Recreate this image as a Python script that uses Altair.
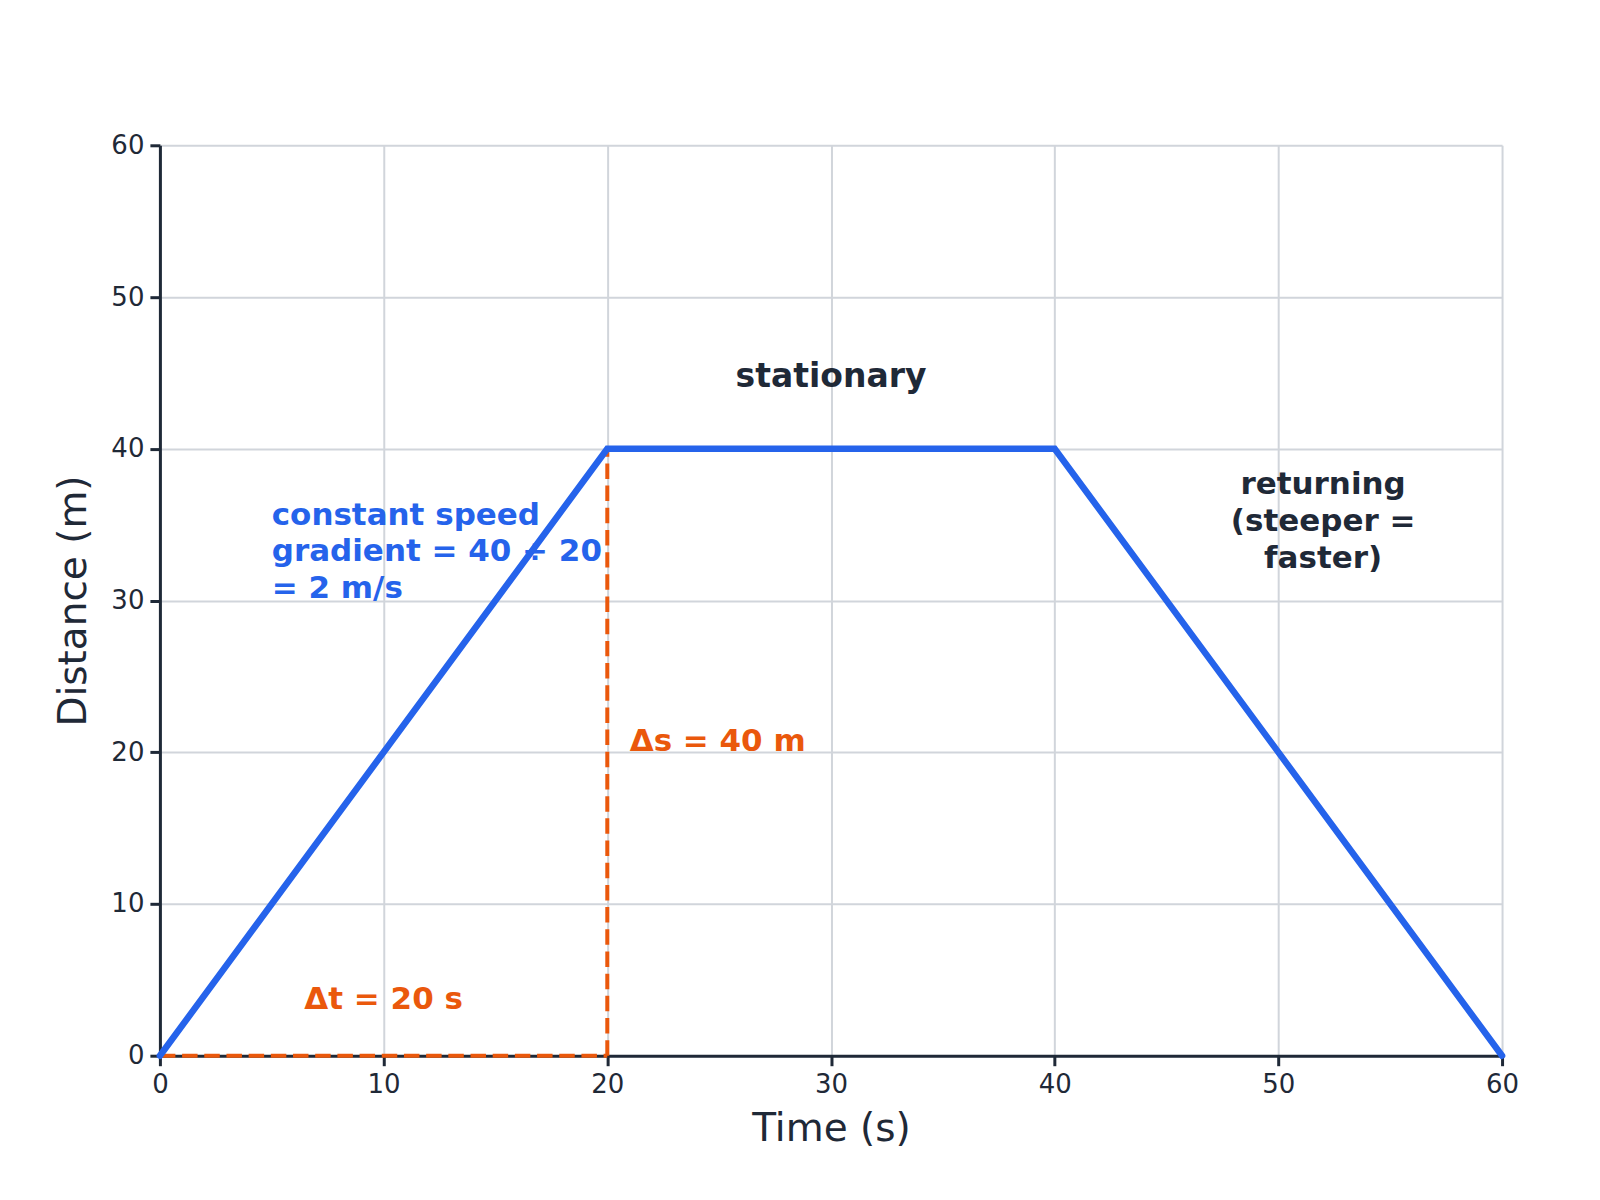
import pandas as pd
import altair as alt

# distance-time graph
times = [0, 20, 40, 60]
distances = [0, 40, 40, 0]

BLUE = "#2563eb"
ORANGE = "#ea580c"
DARK = "#1f2937"
GRID = "#d1d5db"
FONT = "DejaVu Sans"
TICKS = [0, 10, 20, 30, 40, 50, 60]

path = pd.DataFrame({"t": times, "s": distances})

x_enc = alt.X("t:Q", title="Time (s)").scale(domain=[0, 60], nice=False).axis(values=TICKS)
y_enc = alt.Y("s:Q", title="Distance (m)").scale(domain=[0, 60], nice=False).axis(values=TICKS)

line = alt.Chart(path).mark_line(color=BLUE, strokeWidth=6.5, strokeCap="round").encode(
    x=x_enc, y=y_enc, order="t:Q"
)

# delta guides
vert = alt.Chart(pd.DataFrame({"t": [20], "s": [0], "s2": [40]})).mark_rule(
    color=ORANGE, strokeWidth=4, strokeDash=[15.5, 6.7]
).encode(x="t:Q", y="s:Q", y2="s2:Q")
horiz = alt.Chart(pd.DataFrame({"t": [0], "t2": [20], "s": [0]})).mark_rule(
    color=ORANGE, strokeWidth=4, strokeDash=[15.5, 6.7]
).encode(x="t:Q", x2="t2:Q", y="s:Q")

dt_text = alt.Chart(pd.DataFrame({"t": [10], "s": [3.7], "label": ["Δt = 20 s"]})).mark_text(
    font=FONT, fontSize=31, fontWeight="bold", color=ORANGE, align="center", baseline="middle"
).encode(x="t:Q", y="s:Q", text="label:N")
ds_text = alt.Chart(pd.DataFrame({"t": [21], "s": [20.7], "label": ["Δs = 40 m"]})).mark_text(
    font=FONT, fontSize=31, fontWeight="bold", color=ORANGE, align="left", baseline="middle"
).encode(x="t:Q", y="s:Q", text="label:N")

# multi-line labels: y is the first line
grad_text = alt.Chart(pd.DataFrame({
    "t": [5.0], "s": [35.6], "label": ["constant speed\ngradient = 40 ÷ 20\n= 2 m/s"]
})).mark_text(
    font=FONT, fontSize=31, fontWeight="bold", color=BLUE, align="left", baseline="middle",
    lineBreak="\n", lineHeight=37
).encode(x="t:Q", y="s:Q", text="label:N")

stat_text = alt.Chart(pd.DataFrame({"t": [30], "s": [44.7], "label": ["stationary"]})).mark_text(
    font=FONT, fontSize=33, fontWeight="bold", color=DARK, align="center", baseline="middle"
).encode(x="t:Q", y="s:Q", text="label:N")

ret_text = alt.Chart(pd.DataFrame({
    "t": [52.0], "s": [37.6], "label": ["returning\n(steeper =\nfaster)"]
})).mark_text(
    font=FONT, fontSize=31, fontWeight="bold", color=DARK, align="center", baseline="middle",
    lineBreak="\n", lineHeight=37
).encode(x="t:Q", y="s:Q", text="label:N")

chart = alt.layer(
    horiz, vert, grad_text, dt_text, ds_text, stat_text, ret_text, line
).properties(
    width=1343, height=911,
    autosize=alt.AutoSizeParams(type="none"),
    padding={"left": 152, "top": 137, "right": 90, "bottom": 140},
).configure_view(
    stroke=None
).configure_axis(
    labelFont=FONT, titleFont=FONT, labelFontSize=26, titleFontSize=39,
    labelColor=DARK, titleColor=DARK, titleFontWeight="normal",
    domainColor=DARK, domainWidth=3, tickColor=DARK, tickWidth=3, tickSize=10,
    gridColor=GRID, gridWidth=2, labelPadding=6, labelFlush=False,
).configure_axisX(
    titlePadding=12
).configure_axisY(
    titlePadding=17
)

chart.save("out.html", embed_options={"renderer": "svg", "actions": False})
